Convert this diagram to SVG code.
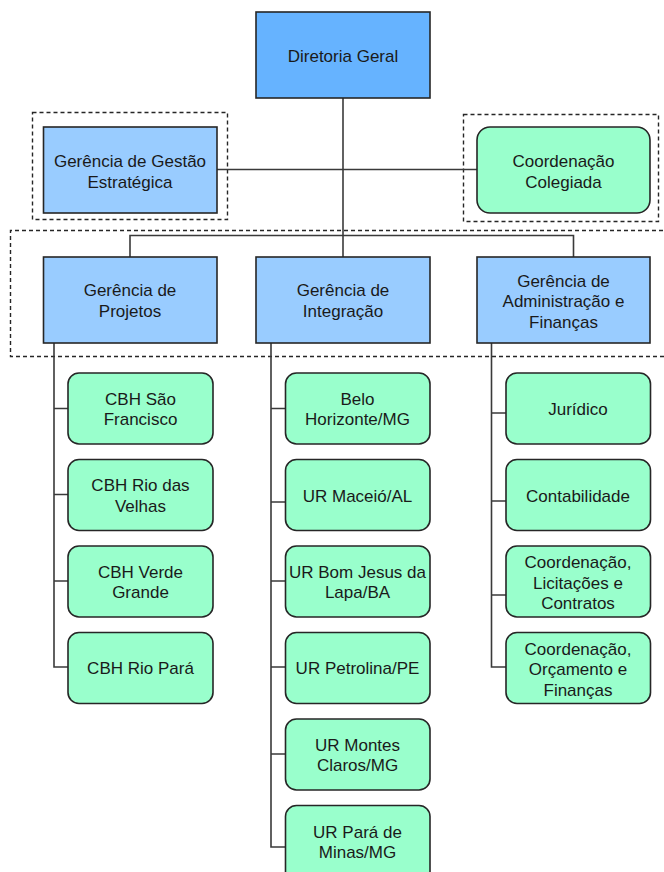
<svg xmlns="http://www.w3.org/2000/svg" width="664" height="872" viewBox="0 0 664 872">
<style>
.box{stroke:#262626;stroke-width:1.6}
.dir{fill:#66b3ff}
.ger{fill:#99ccff}
.leaf{fill:#99ffcc}
.dash{fill:none;stroke:#262626;stroke-width:1.4;stroke-dasharray:4 3}
.ln{fill:none;stroke:#3a3a3a;stroke-width:1.6}
text{font-family:"Liberation Sans",Arial,sans-serif;font-size:17px;fill:#1a1a1a;text-anchor:middle}
</style>
<rect width="664" height="872" fill="#fff"/>
<g id="groups">
<rect class="dash" x="32.5" y="112.5" width="195" height="107"/>
<rect class="dash" x="463.5" y="114.5" width="195" height="107"/>
<path class="dash" d="M670 230.5H10.5V356.5H670"/>
</g>
<g id="connectors">
<path class="ln" d="M343 98V257"/>
<path class="ln" d="M217 169.5H477"/>
<path class="ln" d="M130 257V235.5H573.5V257"/>
<path class="ln" d="M54 343V667H68M54 408.5H68M54 494.5H68M54 581H68"/>
<path class="ln" d="M271 343V847H286M271 408.5H286M271 502H286M271 581H286M271 667H286M271 754H286"/>
<path class="ln" d="M491.5 343V667H506M491.5 413H506M491.5 501H506M491.5 595H506"/>
</g>
<g id="diretoria"><rect class="box dir" x="256" y="12" width="174" height="86"/><text x="343" y="61.5">Diretoria Geral</text></g>
<g id="gestao"><rect class="box ger" x="43.5" y="127" width="173.5" height="86"/><text x="130" y="167">Gerência de Gestão</text><text x="130" y="188">Estratégica</text></g>
<g id="colegiada"><rect class="box leaf" x="477" y="127" width="173" height="86" rx="13"/><text x="563.5" y="167">Coordenação</text><text x="563.5" y="188">Colegiada</text></g>
<g id="projetos"><rect class="box ger" x="43.5" y="257" width="173.5" height="86"/><text x="130" y="296">Gerência de</text><text x="130" y="316.5">Projetos</text></g>
<g id="integracao"><rect class="box ger" x="256" y="257" width="174" height="86"/><text x="343" y="296">Gerência de</text><text x="343" y="316.5">Integração</text></g>
<g id="administracao"><rect class="box ger" x="477" y="257" width="173" height="86"/><text x="563.5" y="286.5">Gerência de</text><text x="563.5" y="307">Administração e</text><text x="563.5" y="327.5">Finanças</text></g>
<g id="cbh-sao-francisco"><rect class="box leaf" x="68" y="373" width="145" height="71" rx="11"/><text x="140.5" y="404.5">CBH São</text><text x="140.5" y="425">Francisco</text></g>
<g id="cbh-rio-das-velhas"><rect class="box leaf" x="68" y="459.5" width="145" height="71" rx="11"/><text x="140.5" y="491">CBH Rio das</text><text x="140.5" y="511.5">Velhas</text></g>
<g id="cbh-verde-grande"><rect class="box leaf" x="68" y="546" width="145" height="71" rx="11"/><text x="140.5" y="577.5">CBH Verde</text><text x="140.5" y="598">Grande</text></g>
<g id="cbh-rio-para"><rect class="box leaf" x="68" y="632.5" width="145" height="71" rx="11"/><text x="140.5" y="674">CBH Rio Pará</text></g>
<g id="belo-horizonte"><rect class="box leaf" x="285.5" y="373" width="144.5" height="71" rx="11"/><text x="357.5" y="404.5">Belo</text><text x="357.5" y="425">Horizonte/MG</text></g>
<g id="ur-maceio"><rect class="box leaf" x="285.5" y="459.5" width="144.5" height="71" rx="11"/><text x="357.5" y="501.5">UR Maceió/AL</text></g>
<g id="ur-bom-jesus"><rect class="box leaf" x="285.5" y="546" width="144.5" height="71" rx="11"/><text x="357.5" y="577.5">UR Bom Jesus da</text><text x="357.5" y="598">Lapa/BA</text></g>
<g id="ur-petrolina"><rect class="box leaf" x="285.5" y="632.5" width="144.5" height="71" rx="11"/><text x="357.5" y="674">UR Petrolina/PE</text></g>
<g id="ur-montes-claros"><rect class="box leaf" x="285.5" y="719" width="144.5" height="71" rx="11"/><text x="357.5" y="750.5">UR Montes</text><text x="357.5" y="771">Claros/MG</text></g>
<g id="ur-para-de-minas"><rect class="box leaf" x="285.5" y="805.5" width="144.5" height="80" rx="11"/><text x="357.5" y="837.5">UR Pará de</text><text x="357.5" y="858">Minas/MG</text></g>
<g id="juridico"><rect class="box leaf" x="506" y="373" width="144.5" height="71" rx="11"/><text x="578" y="415">Jurídico</text></g>
<g id="contabilidade"><rect class="box leaf" x="506" y="459.5" width="144.5" height="71" rx="11"/><text x="578" y="501.5">Contabilidade</text></g>
<g id="licitacoes"><rect class="box leaf" x="506" y="546" width="144.5" height="71" rx="11"/><text x="578" y="568">Coordenação,</text><text x="578" y="588.5">Licitações e</text><text x="578" y="609">Contratos</text></g>
<g id="orcamento"><rect class="box leaf" x="506" y="632.5" width="144.5" height="71" rx="11"/><text x="578" y="654.5">Coordenação,</text><text x="578" y="675">Orçamento e</text><text x="578" y="695.5">Finanças</text></g>
</svg>
